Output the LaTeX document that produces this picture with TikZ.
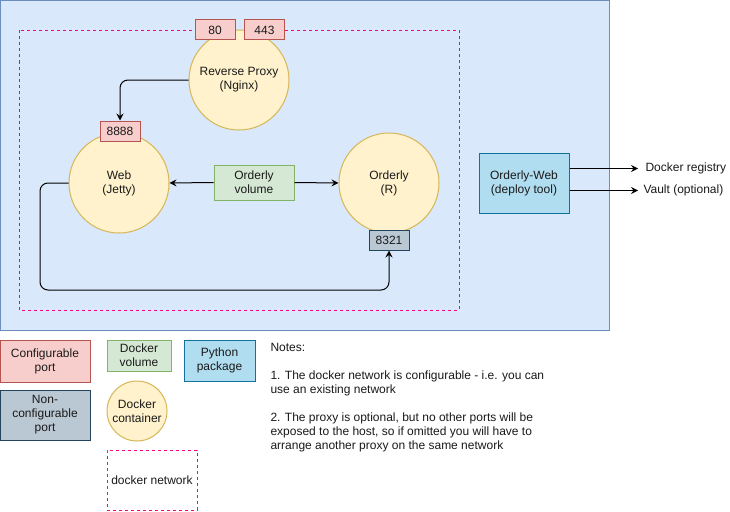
\documentclass[tikz,border=0pt]{standalone}
\usepackage{fontspec}
\setmainfont{Liberation Sans}
\usetikzlibrary{arrows.meta}
\definecolor{hostF}{HTML}{DAE8FC}
\definecolor{hostS}{HTML}{6C8EBF}
\definecolor{redF}{HTML}{F8CECC}
\definecolor{redS}{HTML}{B85450}
\definecolor{yelF}{HTML}{FFF2CC}
\definecolor{yelS}{HTML}{D6B656}
\definecolor{grnF}{HTML}{D5E8D4}
\definecolor{grnS}{HTML}{82B366}
\definecolor{gryF}{HTML}{BAC8D3}
\definecolor{gryS}{HTML}{23445D}
\definecolor{pyF}{HTML}{B1DDF0}
\definecolor{pyS}{HTML}{10739E}
\definecolor{netC}{HTML}{FF0080}
\definecolor{txt}{HTML}{1A1A1A}
\begin{document}
\begin{tikzpicture}[x=1pt,y=-1pt,line width=1pt,
  font=\fontsize{12}{14}\selectfont, text=txt,
  box/.style={draw, rectangle, inner sep=0pt, align=center},
  cport/.style={box, fill=redF, draw=redS},
  ncport/.style={box, fill=gryF, draw=gryS},
  portsz/.style={minimum width=40pt, minimum height=20pt},
  volbox/.style={box, fill=grnF, draw=grnS},
  pybox/.style={box, fill=pyF, draw=pyS},
  container/.style={circle, draw=yelS, fill=yelF, minimum size=100pt, inner sep=0pt, align=center},
  netline/.style={draw=netC, dash pattern=on 3pt off 3pt},
  arr/.style={-{Stealth[length=7pt,width=7pt,inset=2.5pt]}, black},
  note/.style={anchor=base west, inner sep=0pt}
]
\fill[white] (0,0) rectangle (730,511);
\useasboundingbox (0,0) rectangle (730,511);
% host
\draw[draw=hostS, fill=hostF] (0.5,0.5) rectangle (609,330);
% network
\draw[netline] (19.5,30.5) rectangle (459,310);

\node[container] (proxy) at (239,80) {Reverse Proxy\\(Nginx)};
\node[cport, portsz] (p80) at (215,30) {80};
\node[cport, portsz] (p443) at (264.5,30) {443};
\node[container] (web) at (119,183) {Web\\(Jetty)};
\node[cport, portsz] (p8888) at (120,131) {8888};
\node[container] (orderly) at (389,183) {Orderly\\(R)};
\node[ncport, portsz] (p8321) at (389,240) {8321};
\node[volbox, minimum width=80pt, minimum height=35pt] (vol) at (254,182.5) {Orderly\\volume};
\node[pybox, minimum width=90pt, minimum height=60pt] (ow) at (524,183) {Orderly-Web\\(deploy tool)};
\node[anchor=west, inner sep=0pt] (reg) at (645,168.5) {Docker registry};
\node[anchor=west, inner sep=0pt] (vault) at (643,190.5) {Vault (optional)};

\draw[arr, rounded corners=8pt] (proxy.west) -| (p8888.north);
\coordinate (loopc) at (40,290);
\draw[arr, rounded corners=8pt] (web.west) -| (loopc) -| (p8321.south);
\draw[arr] (vol.west) -- (web.east);
\draw[arr] (vol.east) -- (orderly.west);
\draw[arr] (ow.east |- reg.west) -- ([xshift=-7pt]reg.west);
\draw[arr] (ow.east |- vault.west) -- ([xshift=-5pt]vault.west);

% legend
\node[cport, minimum width=90pt, minimum height=42pt] (lcp) at (45,361) {Configurable\\port};
\node[ncport, minimum width=90pt, minimum height=50pt] (lncp) at (45,415) {Non-\\configurable\\port};
\node[volbox, minimum width=64pt, minimum height=31pt] (lvol) at (139,355.5) {Docker\\volume};
\node[pybox, minimum width=71pt, minimum height=41pt] (lpy) at (219.5,360.5) {Python\\package};
\node[container, minimum size=60pt] (lcont) at (137,411) {Docker\\container};
\node[rectangle, netline, minimum width=90pt, minimum height=60pt, inner sep=0pt] (lnet) at (152,480) {docker network};

% notes
\node[note] (n0) at (270,351) {Notes:};
\node[note] (n1) at (270,379) {1. The docker network is configurable - i.e. you can};
\node[note] (n2) at (270,393) {use an existing network};
\node[note] (n3) at (270,421) {2. The proxy is optional, but no other ports will be};
\node[note] (n4) at (270,435) {exposed to the host, so if omitted you will have to};
\node[note] (n5) at (270,449) {arrange another proxy on the same network};
\end{tikzpicture}
\end{document}
